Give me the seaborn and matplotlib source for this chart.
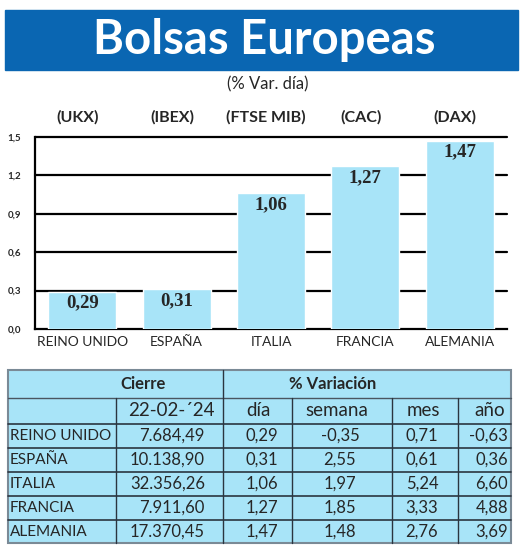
import matplotlib
matplotlib.use("Agg")
import matplotlib.pyplot as plt
import seaborn as sns
import pandas as pd
from matplotlib.patches import Rectangle

# ------------------ DATA ------------------
paises = ["REINO UNIDO", "ESPAÑA", "ITALIA", "FRANCIA", "ALEMANIA"]
indices = ["(UKX)", "(IBEX)", "(FTSE MIB)", "(CAC)", "(DAX)"]
var_dia = [0.29, 0.31, 1.06, 1.27, 1.47]
cierre = ["7.684,49", "10.138,90", "32.356,26", "7.911,60", "17.370,45"]
var_semana = ["-0,35", "2,55", "1,97", "1,85", "1,48"]
var_mes = ["0,71", "0,61", "5,24", "3,33", "2,76"]
var_anio = ["-0,63", "0,36", "6,60", "4,88", "3,69"]
fecha = "22-02-´24"
y_ticks = [0.0, 0.3, 0.6, 0.9, 1.2, 1.5]

BLUE = "#0a66b2"
LIGHT = "#a8e4f8"
SANS = ["Lato", "DejaVu Sans"]
SERIF = ["Liberation Serif", "DejaVu Serif"]

sns.set_style("white")
plt.rcParams["font.family"] = SANS

W, H = 520, 549
fig = plt.figure(figsize=(W / 100, H / 100), dpi=100)

# overlay in pixel coords for title and table
bg = fig.add_axes([0, 0, 1, 1])
bg.set_xlim(0, W)
bg.set_ylim(H, 0)
bg.axis("off")

bg.add_patch(Rectangle((5, 10), 513, 60, color=BLUE, zorder=1))
bg.text(264, 40, "Bolsas Europeas", color="white", fontsize=34, fontweight="bold",
        ha="center", va="center", zorder=2)
bg.text(268, 84, "(% Var. día)", fontsize=12, ha="center", va="center")

# ------------------ BARS ------------------
ax_l, ax_r, ax_t, ax_b = 35, 507, 137, 329
ax = fig.add_axes([ax_l / W, 1 - ax_b / H, (ax_r - ax_l) / W, (ax_b - ax_t) / H])
df = pd.DataFrame({"pais": paises, "var": var_dia})
sns.barplot(data=df, x="pais", y="var", color=LIGHT, saturation=1, width=0.72,
            ax=ax, zorder=3)
for t in y_ticks[1:]:
    ax.axhline(t, color="black", lw=1.6, zorder=1, clip_on=False)
ax.set_ylim(0, 1.5)
ax.set_xlim(-0.5, 4.5)
ax.set_yticks(y_ticks)
ax.set_yticklabels([f"{v:.1f}".replace(".", ",") for v in y_ticks], fontsize=7,
                   fontweight="bold")
ax.set_xticks(range(len(paises)))
ax.set_xticklabels(paises, fontsize=10)
ax.set_xticks([i + 0.5 for i in range(len(paises))], minor=True)
ax.tick_params(axis="x", which="major", length=0, pad=5)
ax.tick_params(axis="x", which="minor", direction="in", length=4, width=1.2, color="black")
ax.tick_params(axis="y", length=0, pad=10)
ax.set_xlabel("")
ax.set_ylabel("")
for s in ["top", "right"]:
    ax.spines[s].set_visible(False)
for s in ["left", "bottom"]:
    ax.spines[s].set_color("black")
    ax.spines[s].set_linewidth(1.6)
ax.set_facecolor("none")

for i, v in enumerate(var_dia):
    ax.text(i, v - 0.02, f"{v:.2f}".replace(".", ","), ha="center", va="top",
            fontsize=13.5, fontweight="bold", family=SERIF, zorder=4)
    ax.text(i - 0.05, 1.65, indices[i], ha="center", va="center", fontsize=11.5,
            fontweight="bold", clip_on=False)

# ------------------ TABLE ------------------
tx0, tx1, ty0, ty1 = 8, 511, 370, 543
bg.add_patch(Rectangle((tx0, ty0), tx1 - tx0, ty1 - ty0, facecolor=LIGHT,
                       edgecolor="#7a8a96", lw=1.5, zorder=1))
row_edges = [398, 424, 448, 472, 496, 520]
bg.plot([tx0, tx1], [row_edges[0], row_edges[0]], color="#4a5560", lw=1, zorder=2)
for y in row_edges[1:]:
    bg.plot([tx0, tx1], [y, y], color="#2b3540", lw=1.2, zorder=2)
bg.plot([223, 223], [ty0, ty1], color="#2b3540", lw=1, zorder=2)
for x in [116, 292, 392, 458]:
    bg.plot([x, x], [398, ty1], color="#2b3540", lw=1, zorder=2)

bg.text(143, 384, "Cierre", fontsize=12, fontweight="bold", ha="center", va="center")
bg.text(333, 384, "% Variación", fontsize=12, fontweight="bold", ha="center", va="center")
heads = [(fecha, 171), ("día", 258), ("semana", 337), ("mes", 423), ("año", 490)]
for txt, x in heads:
    bg.text(x, 411, txt, fontsize=13.5, ha="center", va="center")

for r in range(len(paises)):
    yc = 436 + 24 * r
    bg.text(10, yc, paises[r], fontsize=11, ha="left", va="center")
    bg.text(205, yc, cierre[r], fontsize=12, ha="right", va="center")
    bg.text(262, yc, f"{var_dia[r]:.2f}".replace(".", ","), fontsize=12, ha="center", va="center")
    bg.text(340, yc, var_semana[r], fontsize=12, ha="center", va="center")
    bg.text(422, yc, var_mes[r], fontsize=12, ha="center", va="center")
    bg.text(508, yc, var_anio[r], fontsize=12, ha="right", va="center")

fig.savefig("out.png", dpi=100)
